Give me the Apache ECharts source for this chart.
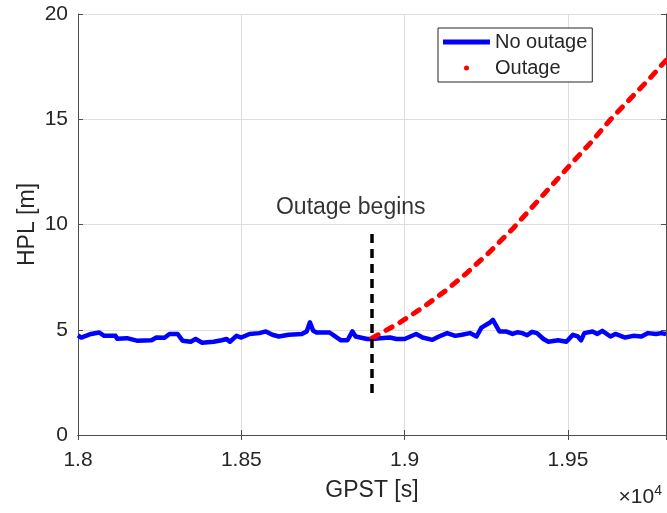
<!DOCTYPE html>
<html>
<head>
<meta charset="utf-8">
<title>HPL during outage</title>
<script src="https://cdn.jsdelivr.net/npm/echarts@6/dist/echarts.min.js"></script>
<style>
  html, body { margin: 0; padding: 0; background: #fff; }
  #chart { width: 667px; height: 513px; }
</style>
</head>
<body>
<div id="chart"></div>
<script>
// GPST [s] and HPL [m]
var noOutageTime = [18000, 18010, 18040, 18065, 18080, 18115, 18120, 18150, 18180, 18225,
  18240, 18265, 18280, 18305, 18320, 18345, 18360, 18380, 18415, 18440,
  18455, 18465, 18485, 18500, 18525, 18555, 18575, 18595, 18615, 18645,
  18685, 18700, 18710, 18720, 18730, 18770, 18785, 18805, 18825, 18840,
  18850, 18885, 18900, 18925, 18955, 18975, 19000, 19035, 19055, 19085,
  19105, 19130, 19155, 19175, 19200, 19220, 19235, 19260, 19270, 19280,
  19290, 19310, 19330, 19345, 19350, 19360, 19375, 19390, 19405, 19425,
  19440, 19470, 19495, 19515, 19530, 19540, 19550, 19575, 19590, 19605,
  19630, 19645, 19675, 19700, 19725, 19745, 19770, 19785, 19800];
var noOutageHpl = [4.73, 4.63, 4.8, 4.87, 4.71, 4.71, 4.57, 4.6, 4.48, 4.5,
  4.63, 4.62, 4.8, 4.8, 4.48, 4.43, 4.56, 4.38, 4.43, 4.5,
  4.56, 4.43, 4.71, 4.63, 4.8, 4.84, 4.92, 4.76, 4.68, 4.76,
  4.8, 4.92, 5.35, 4.95, 4.87, 4.87, 4.71, 4.5, 4.5, 4.92,
  4.68, 4.56, 4.56, 4.6, 4.63, 4.56, 4.56, 4.8, 4.63, 4.52,
  4.68, 4.84, 4.71, 4.76, 4.84, 4.68, 5.1, 5.33, 5.47, 5.2,
  4.92, 4.92, 4.8, 4.88, 4.8, 4.84, 4.74, 4.9, 4.84, 4.56,
  4.43, 4.5, 4.43, 4.76, 4.68, 4.5, 4.84, 4.92, 4.8, 4.95,
  4.68, 4.8, 4.63, 4.71, 4.68, 4.84, 4.8, 4.84, 4.8];

var outageTime = [18900, 18981, 19055, 19125, 19187, 19257, 19334, 19386, 19447, 19505,
  19570, 19631, 19692, 19748, 19800];
var outageHpl = [4.6, 5.3, 6.05, 6.85, 7.65, 8.65, 9.85, 10.75, 11.8, 12.8,
  13.9, 15.0, 16.0, 16.9, 17.8];

var beginTime = 18900;
var beginRange = [2, 9.8];
var beginText = 'Outage begins';
var beginTextPos = [18835, 10.8];

var xTicks = [18000, 19800, 500];   // min, max, interval
var yTicks = [0, 20, 5];

var chart = echarts.init(document.getElementById('chart'), null, { renderer: 'canvas' });

var axisColor = '#4d4d4d';
var textColor = '#262626';
var font = 'Liberation Sans';

function zip(xs, ys) {
  return xs.map(function (x, i) { return [x, ys[i]]; });
}

var option = {
  animation: false,
  backgroundColor: '#fff',
  textStyle: { fontFamily: font },
  grid: { left: 78, right: 1, top: 14, bottom: 78, outerBoundsMode: 'none' },
  legend: {
    orient: 'vertical',
    left: 438,
    top: 28,
    data: [
      { name: 'No outage', icon: 'rect' },
      { name: 'Outage', icon: 'circle' }
    ],
    itemWidth: 47,
    itemHeight: 5,
    itemGap: 6,
    padding: [4, 5, 4, 5],
    borderColor: textColor,
    borderWidth: 1,
    backgroundColor: '#fff',
    textStyle: { fontSize: 20, color: textColor, fontFamily: font }
  },
  xAxis: [{
    type: 'value',
    min: xTicks[0],
    max: xTicks[1],
    interval: xTicks[2],
    name: 'GPST [s]',
    nameLocation: 'middle',
    nameGap: 44,
    nameMoveOverlap: false,
    nameTextStyle: { fontSize: 23, color: textColor },
    axisLine: { lineStyle: { color: axisColor, width: 1 } },
    axisTick: { inside: true, length: 5, lineStyle: { color: axisColor } },
    axisLabel: {
      fontSize: 21, color: textColor, margin: 15, showMaxLabel: false,
      formatter: function (v) { return String(+(v / 10000).toFixed(2)); }
    },
    splitLine: { show: true, lineStyle: { color: '#dedede', width: 1 } }
  }, {
    type: 'value',
    position: 'top',
    min: xTicks[0],
    max: xTicks[1],
    interval: xTicks[2],
    axisLine: { show: true, lineStyle: { color: axisColor, width: 1 } },
    axisTick: { inside: true, length: 5, lineStyle: { color: axisColor } },
    axisLabel: { show: false },
    splitLine: { show: false }
  }],
  yAxis: [{
    type: 'value',
    min: yTicks[0],
    max: yTicks[1],
    interval: yTicks[2],
    name: 'HPL [m]',
    nameLocation: 'middle',
    nameGap: 39,
    nameMoveOverlap: false,
    nameTextStyle: { fontSize: 23, color: textColor },
    axisLine: { show: true, lineStyle: { color: axisColor, width: 1 } },
    axisTick: { show: true, inside: true, length: 5, lineStyle: { color: axisColor } },
    axisLabel: { fontSize: 21, color: textColor, margin: 10 },
    splitLine: { show: true, lineStyle: { color: '#dedede', width: 1 } }
  }, {
    type: 'value',
    position: 'right',
    min: yTicks[0],
    max: yTicks[1],
    interval: yTicks[2],
    axisLine: { show: true, lineStyle: { color: axisColor, width: 1 } },
    axisTick: { show: true, inside: true, length: 5, lineStyle: { color: axisColor } },
    axisLabel: { show: false },
    splitLine: { show: false }
  }],
  graphic: [{
    type: 'text',
    right: 5,
    bottom: 5,
    style: {
      text: '×10{sup|4}',
      fill: textColor,
      font: '21px "Liberation Sans"',
      rich: { sup: { fontSize: 14, verticalAlign: 'top', padding: [0, 0, 12, 0], fill: textColor } }
    }
  }],
  series: [{
    name: 'No outage',
    type: 'line',
    data: zip(noOutageTime, noOutageHpl),
    symbol: 'none',
    color: '#0000ff',
    lineStyle: { width: 4.5, color: '#0000ff', join: 'round' },
    z: 3
  }, {
    name: 'Outage',
    type: 'line',
    data: zip(outageTime, outageHpl),
    symbol: 'none',
    color: '#ff0000',
    itemStyle: { color: '#ff0000' },
    lineStyle: { width: 5, color: '#ff0000', type: [7, 9], cap: 'round' },
    z: 4
  }, {
    name: 'begin',
    type: 'line',
    data: [[beginTime, beginRange[0]], [beginTime, beginRange[1]]],
    symbol: 'none',
    lineStyle: { width: 3.5, color: '#000', type: [9, 6] },
    z: 5
  }, {
    name: 'label',
    type: 'scatter',
    data: [beginTextPos],
    symbolSize: 0,
    label: {
      show: true,
      position: 'inside',
      formatter: beginText,
      fontSize: 23,
      color: '#000',
      fontFamily: font
    },
    z: 6
  }]
};

chart.setOption(option);
</script>
</body>
</html>
